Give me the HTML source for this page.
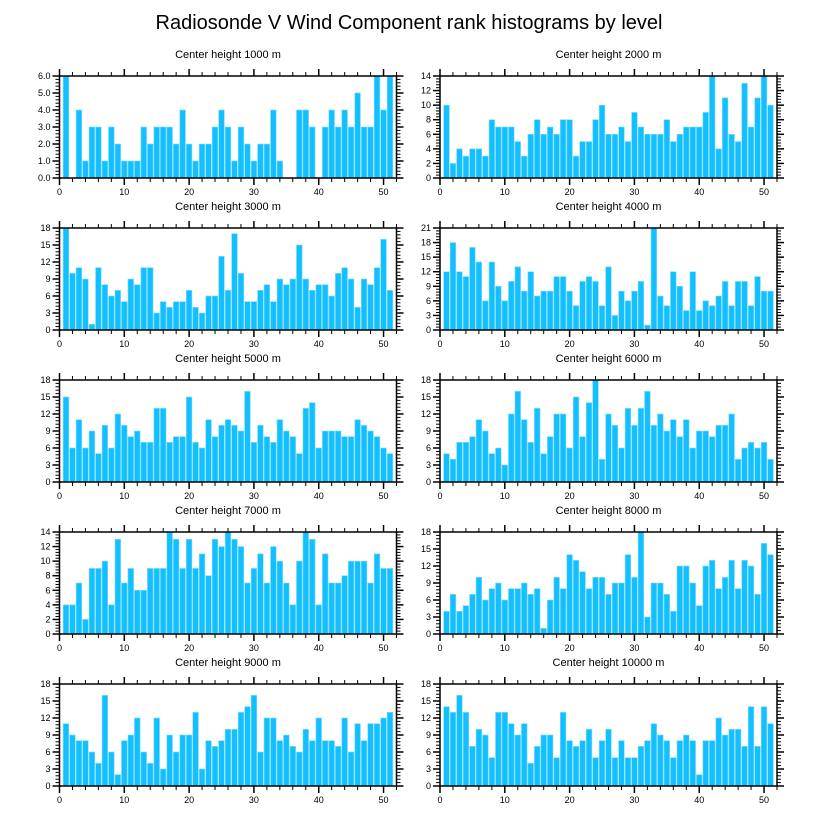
<!DOCTYPE html>
<html><head><meta charset="utf-8"><style>
body{margin:0;background:#fff;}
svg text{font-family:"Liberation Sans",sans-serif;fill:#000;}
</style></head><body>
<svg id="chart" width="818" height="824" xmlns="http://www.w3.org/2000/svg">
<text x="409" y="29" font-size="20" text-anchor="middle">Radiosonde V Wind Component rank histograms by level</text>
</svg>
<script>
const levels = [1000,2000,3000,4000,5000,6000,7000,8000,9000,10000];
const yMaxes = [6,14,18,21,18,18,14,18,18,18];
const yStepsMajor = [1,2,3,3,3,3,2,3,3,3];
const v1000 = [6,0,4,1,3,3,1,3,2,1,1,1,3,2,3,3,3,2,4,2,1,2,2,3,4,3,1,3,2,1,2,2,4,1,0,0,4,4,3,0,3,4,3,4,3,5,3,3,6,4,6];
const v2000 = [10,2,4,3,4,4,3,8,7,7,7,5,3,6,8,6,7,6,8,8,3,5,5,8,10,6,6,7,5,9,7,6,6,6,8,5,6,7,7,7,9,14,4,11,6,5,13,7,11,14,10];
const v3000 = [18,10,11,9,1,11,8,6,7,5,9,8,11,11,3,5,4,5,5,7,4,3,6,6,13,7,17,10,5,5,7,8,5,9,8,9,15,9,7,8,8,6,10,11,9,4,9,8,11,16,7];
const v4000 = [12,18,12,11,17,14,6,14,9,6,10,13,8,12,7,8,8,11,11,8,5,10,11,10,5,13,3,8,6,8,10,1,21,7,5,12,9,4,12,4,6,5,7,10,5,10,10,5,11,8,8];
const v5000 = [15,6,11,6,9,5,10,6,12,10,8,9,7,7,13,13,7,8,8,15,7,6,11,8,10,11,10,9,16,7,10,8,7,11,9,8,5,13,14,6,9,9,9,8,8,11,10,9,8,6,5];
const v6000 = [5,4,7,7,8,11,9,5,6,3,12,16,11,7,13,5,8,12,12,6,15,8,14,18,4,12,10,6,13,10,13,16,10,12,9,11,8,11,6,9,9,8,10,10,12,4,6,7,6,7,4];
const v7000 = [4,4,7,2,9,9,10,4,13,7,9,6,6,9,9,9,14,13,9,13,9,11,8,13,12,14,13,12,7,9,11,7,12,10,7,4,10,14,13,4,11,7,7,8,10,10,10,7,11,9,9];
const v8000 = [4,7,4,5,7,10,6,8,9,6,8,8,9,7,8,1,6,10,8,14,13,11,8,10,10,7,9,9,14,10,18,3,9,9,7,4,12,12,9,5,12,13,8,10,13,8,13,12,7,16,14];
const v9000 = [11,9,8,8,6,4,16,6,2,8,9,12,6,4,12,3,9,6,9,9,13,3,8,7,8,10,10,13,14,16,6,12,12,8,9,7,6,10,8,12,8,8,7,12,6,11,8,11,11,12,13];
const v10000 = [14,13,16,13,7,10,9,5,13,13,11,9,11,4,7,9,9,5,13,8,7,8,10,5,8,10,5,8,5,5,7,8,11,9,8,5,8,9,8,2,8,8,12,9,10,10,7,14,7,14,11];
const xTicks = [0,10,20,30,40,50];
const series = [v1000,v2000,v3000,v4000,v5000,v6000,v7000,v8000,v9000,v10000];

const NS="http://www.w3.org/2000/svg";
const svg=document.getElementById('chart');
const XMAX=52, PW=337, PH=102;
function mk(tag,attrs,parent){const e=document.createElementNS(NS,tag);for(const k in attrs)e.setAttribute(k,attrs[k]);(parent||svg).appendChild(e);return e;}

series.forEach((vals,p)=>{
  const col=p%2,row=Math.floor(p/2);
  const L=col?440:59.5, T=76+152*row;
  const ymax=yMaxes[p], ystep=yStepsMajor[p];
  const xs=v=>L+v/XMAX*PW;
  const ys=v=>T+PH-v/ymax*PH;
  const g=mk('g',{});
  
  
  const t=mk('text',{x:L+PW/2,y:T-18,'font-size':11,'text-anchor':'middle'},g);
  t.textContent='Center height '+levels[p]+' m';
  
  
  vals.forEach((v,i)=>{
    const bw=0.87/XMAX*PW;
    const r=mk('rect',{x:xs(i+1)-bw/2,y:ys(v),width:bw,height:ys(0)-ys(v),fill:'#13bfff',stroke:'#7fdcff','stroke-width':0.6},g);
    
    
  });
  const box=mk('rect',{x:L,y:T,width:PW,height:PH,fill:'none',stroke:'#000','stroke-width':1.5},g);
  
  
  // x ticks
  for(let u=0;u<=XMAX;u+=2){
    const maj=u%10===0, len=maj?7:4, x=xs(u);
    mk('line',{x1:x,x2:x,y1:T,y2:T-len,stroke:'#000','stroke-width':maj?1.5:1},g);
    mk('line',{x1:x,x2:x,y1:T+PH,y2:T+PH+len,stroke:'#000','stroke-width':maj?1.5:1},g);
  }
  xTicks.forEach(u=>{
    const tl=mk('text',{x:xs(u),y:T+PH+17,'font-size':9,'text-anchor':'middle'},g);
    tl.textContent=u;
    
    
  });
  // y ticks
  const minor=ystep/5;
  for(let k=0;k<=Math.round(ymax/minor);k++){
    const v=k*minor, maj=k%5===0, len=maj?7:4, y=ys(v);
    mk('line',{x1:L,x2:L-len,y1:y,y2:y,stroke:'#000','stroke-width':maj?1.5:1},g);
    mk('line',{x1:L+PW,x2:L+PW+len,y1:y,y2:y,stroke:'#000','stroke-width':maj?1.5:1},g);
    if(maj){
      const yl=mk('text',{x:L-9,y:y+3,'font-size':9,'text-anchor':'end'},g);
      yl.textContent=ymax===6?v.toFixed(1):Math.round(v);
      
      
    }
  }
});
</script>
</body></html>
